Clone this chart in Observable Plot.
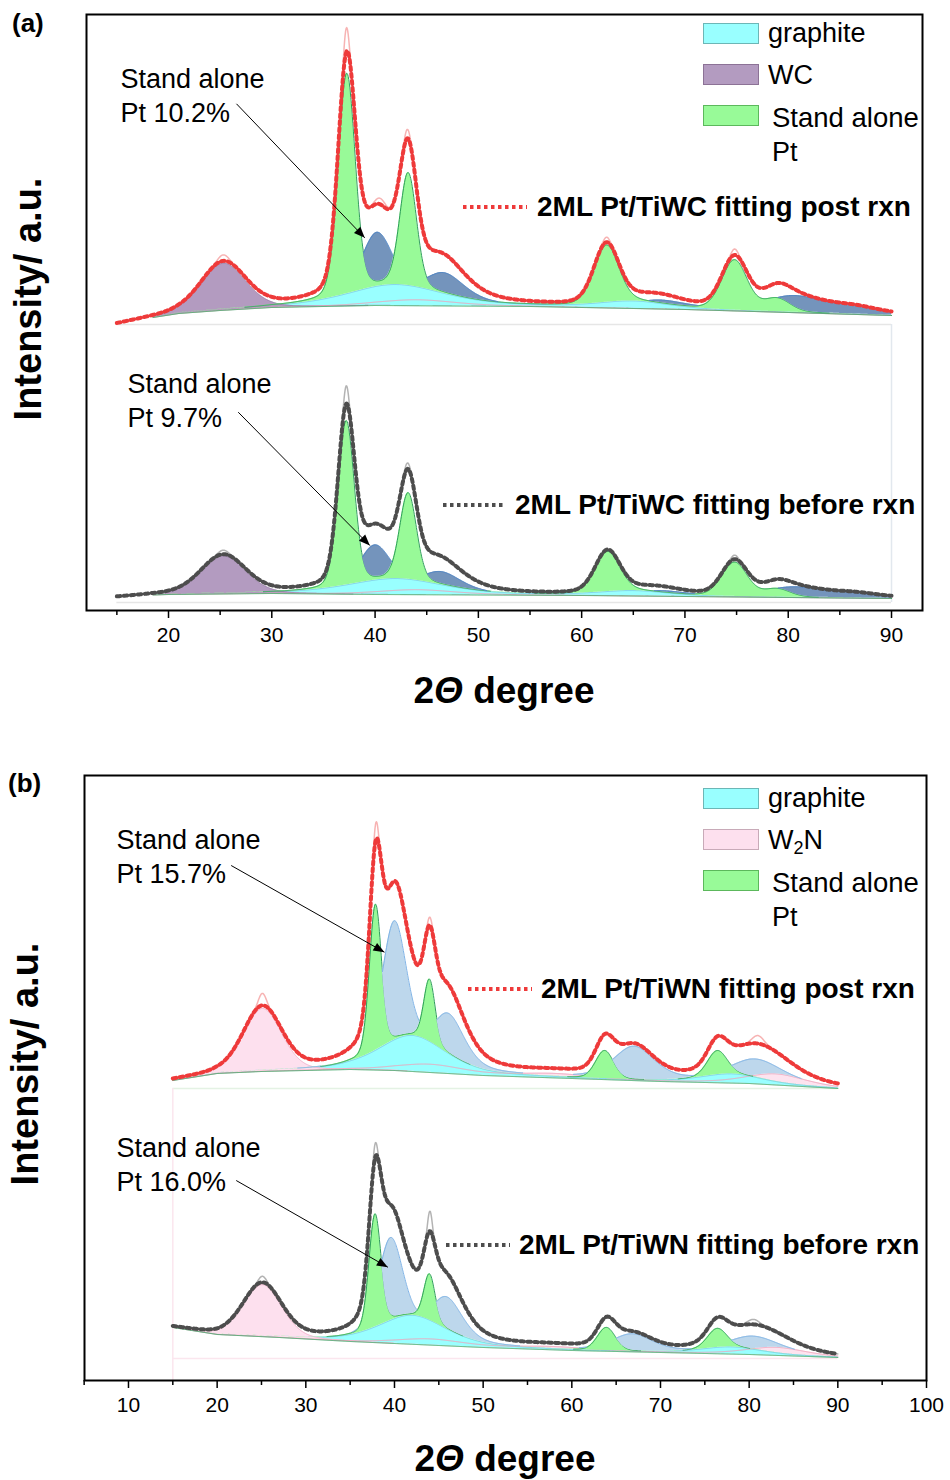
<!DOCTYPE html>
<html><head><meta charset="utf-8">
<script src="https://cdn.jsdelivr.net/npm/d3@7"></script>
<script src="https://cdn.jsdelivr.net/npm/@observablehq/plot@0.6"></script>
<style>
body{margin:0;background:#fff;}
#wrap{position:relative;width:950px;height:1480px;font-family:"Liberation Sans",Arial,sans-serif;color:#000;}
.abs{position:absolute;white-space:nowrap;line-height:1;}
.sw{position:absolute;width:56px;height:21px;box-sizing:border-box;}
.lg{position:absolute;white-space:nowrap;line-height:1;font-size:27px;}
.fit{position:absolute;white-space:nowrap;line-height:1;font-size:28px;font-weight:bold;}
.plot{position:absolute;left:0;}
</style></head><body><div id="wrap"></div>
<script>
// ---------- Panel (a): 2ML Pt/TiWC ----------
const aTicks = [20, 30, 40, 50, 60, 70, 80, 90];
const aMinorTicks = [15, 25, 35, 45, 55, 65, 75, 85];
// peaks are [centre (deg), height (a.u.), FWHM (deg)]
const aPostBgX = [15, 18.5, 21, 25, 30, 40, 55, 70, 90];
const aPostBgY = [286, 293, 297, 300, 303, 305, 304, 301, 295];
const aPostGraphite = [[42, 21, 11], [65, 7, 8]];
const aPostPt = [[37.25, 220, 1.95], [43.2, 112, 1.9], [62.4, 57, 2.8], [74.8, 50, 2.9], [78.9, 13, 3.0]];
const aPostWC25 = [[25.3, 47, 5.1]];
const aPostWC = [[40.2, 71, 4.0], [46.6, 30, 5], [67.5, 8, 6], [80.5, 16, 7], [86.5, 6, 6]];
const aPostMinor = [[44, 6, 9]];
const aPostRawExtra = [[37.2, 24, 0.6], [43.1, 9, 0.7], [25.3, 6, 1.2], [62.4, 5, 0.8], [74.8, 6, 0.8], [40.5, 6, 1.2]];

const aPreBgX = [15, 18.5, 20, 30, 40, 60, 80, 90];
const aPreBgY = [13, 15.5, 16, 17, 16, 15, 13, 12];
const aPreGraphite = [[42, 16, 11], [65, 5, 8]];
const aPrePt = [[37.2, 164, 1.85], [43.2, 86, 1.9], [62.5, 40, 2.8], [74.8, 34, 2.9], [78.9, 8, 3.0]];
const aPreWC25 = [[25.3, 38, 5.1]];
const aPreWC = [[40.0, 48, 4.0], [46.3, 21, 5], [67.5, 5, 6], [80.5, 10, 7], [86.5, 4, 6]];
const aPreMinor = [[44, 5, 9]];
const aPreRawExtra = [[37.2, 18, 0.6], [43.1, 6, 0.7], [25.3, 4, 1.2], [74.8, 4, 0.8]];

const aLabels = ["Stand alone", "Pt 10.2%", "Stand alone", "Pt 9.7%"];
const aLabelX = [15.35, 15.35, 16.03, 16.03];
const aLabelY = [531, 497, 226, 192];
const aArrowX1 = [26.58, 26.75], aArrowY1 = [506.7, 198.3];
const aArrowX2 = [39.0, 39.49], aArrowY2 = [372.7, 65];

// ---------- Panel (b): 2ML Pt/TiWN ----------
const bTicks = [10, 20, 30, 40, 50, 60, 70, 80, 90, 100];
const bMinorTicks = [5, 15, 25, 35, 45, 55, 65, 75, 85, 95];
const bPostBgX = [15, 20, 25, 30, 35, 40, 50, 60, 70, 80, 90];
const bPostBgY = [300, 307, 309, 310, 311, 310, 305, 302, 299, 297, 292];
const bPostGraphite = [[42, 36, 9], [78, 9, 8]];
const bPostPt = [[37.85, 146, 1.6], [43.95, 62, 1.5], [63.7, 28, 2.4], [76.4, 24, 2.6]];
const bPostW2N25 = [[25.1, 63, 5.1]];
const bPostW2N = [[40.0, 146, 3.6], [46.0, 54, 4.5], [67.0, 33, 5.5], [80.7, 24, 7.5]];
const bPostMinor = [[44, 8, 9], [58, 4, 10], [83, 11, 8]];
const bPostRawExtra = [[37.9, 17, 0.6], [25.1, 12, 1.0], [44.0, 8, 0.7], [81, 8, 1.5]];

const bPreBgX = [15, 20, 27, 35, 40, 50, 60, 70, 80, 90];
const bPreBgY = [53, 46, 43, 39, 37, 33, 30, 28, 26, 23];
const bPreGraphite = [[42, 29, 9], [78, 7, 8]];
const bPrePt = [[37.8, 113, 1.6], [43.95, 46, 1.5], [63.9, 23, 2.4], [76.4, 19, 2.6]];
const bPreW2N25 = [[25.1, 52, 5.1]];
const bPreW2N = [[39.6, 103, 3.6], [45.8, 45, 4.5], [66.8, 17, 5.5], [80.4, 18, 7.5]];
const bPreMinor = [[44, 6, 9], [58, 3, 10], [83, 8, 8]];
const bPreRawExtra = [[37.8, 14, 0.6], [44.0, 20, 0.6], [25.1, 6, 1.0], [80.5, 5, 1.5]];

const bLabels = ["Stand alone", "Pt 15.7%", "Stand alone", "Pt 16.0%"];
const bLabelX = [8.65, 8.65, 8.65, 8.65];
const bLabelY = [540, 506, 232, 198];
const bArrowX1 = [21.58, 22.15], bArrowY1 = [515, 200];
const bArrowX2 = [38.87, 39.25], bArrowY2 = [428.3, 113.3];

// ---------- helpers ----------
function pv(x, p, eta) {
  const d = (x - p[0]) / (p[2] / 2);
  return p[1] * (eta / (1 + d * d) + (1 - eta) * Math.exp(-Math.LN2 * d * d));
}
const sumPeaks = (x, peaks, eta) => d3.sum(peaks, p => pv(x, p, eta));
function buildRows(bgX, bgY, gr, pt, wlow, whigh, minor, extra) {
  const bgs = d3.scaleLinear(bgX, bgY);
  return d3.range(0, 1501).map(i => {
    const x = 15 + i * 0.05;
    const r = {x, bg: bgs(x), G: sumPeaks(x, gr, 0.5), Pt: sumPeaks(x, pt, 0.15),
      Wl: sumPeaks(x, wlow, 0.2), Wh: sumPeaks(x, whigh, 0.5), P: sumPeaks(x, minor, 0.5)};
    r.total = r.bg + r.G + r.Pt + r.Wl + r.Wh + r.P;
    r.raw = r.total + sumPeaks(x, extra, 0);
    return r;
  });
}
function traceMarks(rows, start, pal) {
  const c = rows.filter(d => d.x >= start - 1e-9);
  const top = d => d.bg + Math.max(d.G + d.Pt, d.P);
  return [
    pal.minorFill ? Plot.areaY(c, {x: "x", y1: "bg", y2: d => d.bg + d.P, fill: pal.minorFill}) : null,
    Plot.areaY(c, {x: "x", y1: "bg", y2: d => d.bg + d.G, fill: "#99ffff"}),
    Plot.lineY(c, {x: "x", y: d => d.bg + d.G, stroke: "#7cc0dc", strokeWidth: 0.8}),
    Plot.areaY(c, {x: "x", y1: "bg", y2: d => d.bg + d.Wl, fill: pal.wlow}),
    Plot.lineY(c, {x: "x", y: d => d.Wl > 0.3 ? d.bg + d.Wl : NaN, stroke: pal.wlowStroke, strokeWidth: 0.8}),
    Plot.lineY(c, {x: "x", y: d => d.bg + d.P, stroke: "#f0a4bb", strokeWidth: 1}),
    Plot.areaY(c, {x: "x", y1: d => d.bg + d.G, y2: d => d.bg + d.G + d.Pt, fill: "#98fa98"}),
    Plot.lineY(c, {x: "x", y: d => d.Pt > 0.4 ? d.bg + d.G + d.Pt : NaN, stroke: "#2e9e5a", strokeWidth: 1}),
    Plot.areaY(c, {x: "x", y1: top, y2: d => Math.max(top(d), d.bg + d.Wh), fill: pal.whigh}),
    Plot.lineY(c, {x: "x", y: d => d.bg + d.Wh > top(d) + 0.3 ? d.bg + d.Wh : NaN, stroke: pal.whighStroke, strokeWidth: 1}),
    Plot.lineY(c, {x: "x", y: "bg", stroke: "#3aa564", strokeWidth: 1}),
    Plot.lineY(rows, {x: "x", y: "raw", stroke: pal.raw, strokeWidth: 1.5, strokeOpacity: 0.85}),
    Plot.lineY(rows, {x: "x", y: "total", stroke: pal.fit, strokeWidth: 4, strokeDasharray: "3.5,3.5"})
  ];
}
const postPalA = {wlow: "#b39bc0", wlowStroke: "#9a80aa", whigh: "#7494bc", whighStroke: "#4f86c6", raw: "#f6a6a6", fit: "#ee3a3a"};
const prePalA = {...postPalA, raw: "#a6a6a6", fit: "#4d4d4d"};
const postPalB = {minorFill: "#fde3ef", wlow: "#fde0ee", wlowStroke: "#f0a8c4", whigh: "#bdd7ec", whighStroke: "#7fb3e6", raw: "#f6a6a6", fit: "#ee3a3a"};
const prePalB = {...postPalB, raw: "#a6a6a6", fit: "#4d4d4d"};

const FONT = "'Liberation Sans', Arial, sans-serif";
const TICKFONT = "'Liberation Sans Narrow', 'Liberation Sans', Arial, sans-serif";

function fixArrows(svg) {
  svg.querySelectorAll("marker").forEach(m => {
    m.setAttribute("viewBox", "-10 -5 10 10");
    m.setAttribute("markerWidth", "17");
    m.setAttribute("markerHeight", "11");
    m.setAttribute("markerUnits", "userSpaceOnUse");
    m.setAttribute("fill", "#000");
    m.setAttribute("stroke", "none");
    m.innerHTML = '<path d="M-10,-4L0,0L-10,4Z" fill="#000"/>';
  });
}

function panel(cfg) {
  const svg = Plot.plot({
    width: 950, height: cfg.height,
    marginTop: cfg.mt, marginRight: cfg.mr, marginBottom: cfg.mb, marginLeft: cfg.ml,
    style: {fontFamily: FONT, background: "transparent", overflow: "visible"},
    x: {domain: cfg.xdom},
    y: {domain: cfg.ydom, axis: null},
    marks: [
      ...cfg.rules,
      ...traceMarks(cfg.post, cfg.start, cfg.postPal),
      ...traceMarks(cfg.pre, cfg.start, cfg.prePal),
      Plot.link(d3.range(2), {x1: i => cfg.ax1[i], y1: i => cfg.ay1[i], x2: i => cfg.ax2[i], y2: i => cfg.ay2[i], stroke: "#000", strokeWidth: 1, markerEnd: "arrow"}),
      Plot.text(d3.range(4), {x: i => cfg.lx[i], y: i => cfg.ly[i], text: i => cfg.labels[i], textAnchor: "start", lineAnchor: "middle", fontSize: 27, fill: "#000"}),
      Plot.axisX({ticks: cfg.minor, tickSize: 5, tickFormat: () => "", label: null, strokeWidth: 1.5}),
      Plot.axisX({ticks: cfg.major, tickSize: 8, tickPadding: 9, fontSize: 21, fontFamily: TICKFONT, tickFormat: d => String(d), label: null, strokeWidth: 1.5}),
      Plot.frame({stroke: "#000", strokeWidth: 2})
    ]
  });
  svg.classList.add("plot");
  svg.style.top = cfg.top + "px";
  fixArrows(svg);
  return svg;
}

const aPost = buildRows(aPostBgX, aPostBgY, aPostGraphite, aPostPt, aPostWC25, aPostWC, aPostMinor, aPostRawExtra);
const aPre = buildRows(aPreBgX, aPreBgY, aPreGraphite, aPrePt, aPreWC25, aPreWC, aPreMinor, aPreRawExtra);
const bPost = buildRows(bPostBgX, bPostBgY, bPostGraphite, bPostPt, bPostW2N25, bPostW2N, bPostMinor, bPostRawExtra);
const bPre = buildRows(bPreBgX, bPreBgY, bPreGraphite, bPrePt, bPreW2N25, bPreW2N, bPreMinor, bPreRawExtra);

const wrap = document.getElementById("wrap");
wrap.appendChild(panel({
  top: 0, height: 730, mt: 14, mr: 28, mb: 120, ml: 86, xdom: [12.06, 93], ydom: [0, 596],
  post: aPost, pre: aPre, start: 18.5, postPal: postPalA, prePal: prePalA,
  major: aTicks, minor: aMinorTicks,
  ax1: aArrowX1, ay1: aArrowY1, ax2: aArrowX2, ay2: aArrowY2,
  lx: aLabelX, ly: aLabelY, labels: aLabels,
  rules: [
    Plot.ruleY([286], {x1: 15, x2: 90, stroke: "#e6e6e6", strokeWidth: 1.5}),
    Plot.ruleY([8], {x1: 15, x2: 90, stroke: "#e6e6e6", strokeWidth: 1.5}),
    Plot.ruleX([90], {y1: 8, y2: 286, stroke: "#e2e8ee", strokeWidth: 1.5})
  ]
}));
wrap.appendChild(panel({
  top: 740, height: 740, mt: 35, mr: 24, mb: 100, ml: 84, xdom: [5.04, 100], ydom: [0, 605],
  post: bPost, pre: bPre, start: 15, postPal: postPalB, prePal: prePalB,
  major: bTicks, minor: bMinorTicks,
  ax1: bArrowX1, ay1: bArrowY1, ax2: bArrowX2, ay2: bArrowY2,
  lx: bLabelX, ly: bLabelY, labels: bLabels,
  rules: [
    Plot.ruleY([292], {x1: 15, x2: 90, stroke: "#e4f2e4", strokeWidth: 1.5}),
    Plot.ruleY([22], {x1: 15, x2: 90, stroke: "#fbe6ee", strokeWidth: 1.5}),
    Plot.ruleX([15], {y1: 0, y2: 292, stroke: "#fbe6ee", strokeWidth: 1.5})
  ]
}));

// ---------- text overlays (titles, legends) ----------
function add(html, cls, style) {
  const d = document.createElement("div");
  d.className = cls; d.innerHTML = html;
  Object.assign(d.style, style);
  wrap.appendChild(d);
  return d;
}
function dotted(x1, x2, y, color) {
  const s = document.createElementNS("http://www.w3.org/2000/svg", "svg");
  s.setAttribute("width", x2 - x1); s.setAttribute("height", 8);
  s.style.position = "absolute"; s.style.left = x1 + "px"; s.style.top = (y - 4) + "px";
  s.innerHTML = `<line x1="0" y1="4" x2="${x2 - x1}" y2="4" stroke="${color}" stroke-width="4" stroke-dasharray="3.5,3.5"/>`;
  wrap.appendChild(s);
}
const panelLetters = ["(a)", "(b)"];
add(panelLetters[0], "abs", {left: "12px", top: "10px", fontSize: "26px", fontWeight: "bold"});
add(panelLetters[1], "abs", {left: "8px", top: "770px", fontSize: "26px", fontWeight: "bold"});
const yTitle = "Intensity/ a.u.";
add(yTitle, "abs", {left: "28px", top: "299px", fontSize: "38px", fontWeight: "bold", transform: "translate(-50%,-50%) rotate(-90deg)"});
add(yTitle, "abs", {left: "25px", top: "1064px", fontSize: "38px", fontWeight: "bold", transform: "translate(-50%,-50%) rotate(-90deg)"});
const xTitle = "2<i>\u0398</i> degree";
add(xTitle, "abs", {left: "504px", top: "690px", fontSize: "37px", fontWeight: "bold", transform: "translate(-50%,-50%)"});
add(xTitle, "abs", {left: "505px", top: "1458px", fontSize: "37px", fontWeight: "bold", transform: "translate(-50%,-50%)"});

const aLegend = ["graphite", "WC", "Stand alone", "Pt"];
const bLegend = ["graphite", "W<sub style='font-size:18px;vertical-align:-5px;line-height:0'>2</sub>N", "Stand alone", "Pt"];
function legend(names, top, sw2, sw2b) {
  add("", "sw", {left: "703px", top: top + "px", background: "#99ffff", border: "1.5px solid #6cb6b6"});
  add("", "sw", {left: "703px", top: (top + 41) + "px", background: sw2, border: "1.5px solid " + sw2b});
  add("", "sw", {left: "703px", top: (top + 82) + "px", background: "#98fa98", border: "1.5px solid #5cb85c"});
  add(names[0], "lg", {left: "768px", top: (top - 3) + "px"});
  add(names[1], "lg", {left: "768px", top: (top + 39) + "px"});
  add(names[2], "lg", {left: "772px", top: (top + 81) + "px", fontSize: "27.5px"});
  add(names[3], "lg", {left: "772px", top: (top + 116) + "px"});
}
legend(aLegend, 23, "#b39bc0", "#8c7296");
legend(bLegend, 788, "#fde0ee", "#c8aab8");

const fitNames = ["2ML Pt/TiWC fitting post rxn", "2ML Pt/TiWC fitting before rxn", "2ML Pt/TiWN fitting post rxn", "2ML Pt/TiWN fitting before rxn"];
dotted(463, 527, 207, "#ee3a3a"); add(fitNames[0], "fit", {left: "537px", top: "193px"});
dotted(443, 505, 505, "#4d4d4d"); add(fitNames[1], "fit", {left: "515px", top: "491px"});
dotted(468, 532, 989, "#ee3a3a"); add(fitNames[2], "fit", {left: "541px", top: "975px"});
dotted(446, 510, 1245, "#4d4d4d"); add(fitNames[3], "fit", {left: "519px", top: "1231px"});
</script></body></html>
